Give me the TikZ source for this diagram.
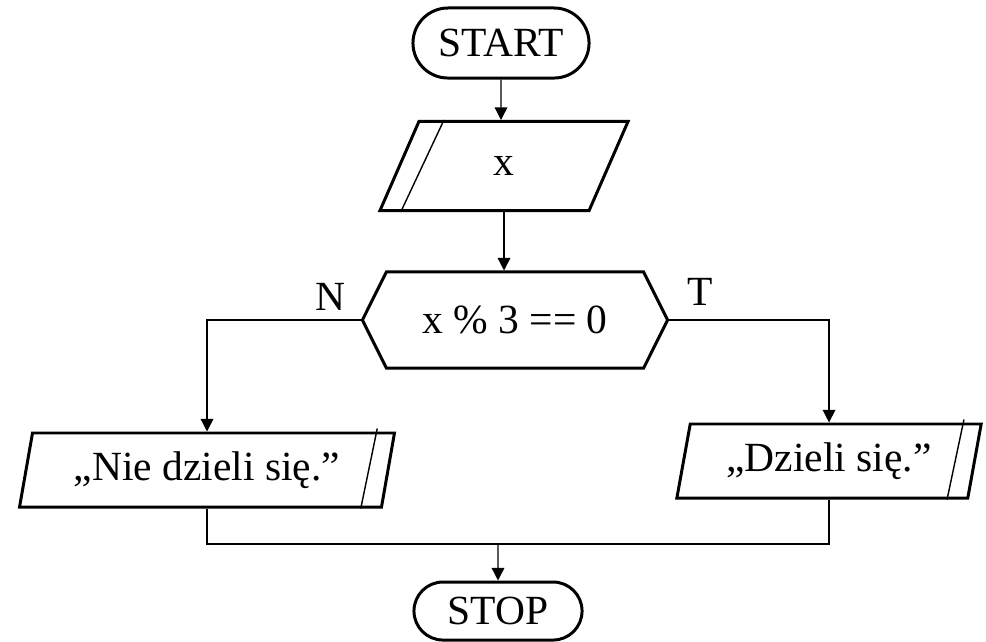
\documentclass[tikz,border=0pt]{standalone}
\usepackage{fontspec}
\setmainfont{Liberation Serif}
\usetikzlibrary{shapes.geometric, shapes.misc, shapes.symbols, arrows.meta, calc}

\begin{document}
\begin{tikzpicture}[x=0.01cm, y=-0.01cm, >={Triangle[length=3.6pt, width=3.6pt]}, font=\fontsize{11.8}{14}\selectfont,
    term/.style={rounded rectangle, draw, line width=0.85pt, inner sep=0pt},
    io/.style={trapezium, draw, line width=0.85pt, trapezium stretches=true, inner sep=0pt},
    cond/.style={signal, signal to=west and east, signal pointer angle=127, draw, line width=0.85pt, inner sep=0pt},
    flow/.style={->, line width=0.4pt}]
    \useasboundingbox (0,0) rectangle (986,641);

    \node[term, minimum width=1.76cm, minimum height=0.70cm] (start) at (501,43) {START};
    \node[io, trapezium left angle=76, trapezium right angle=104, minimum width=2.48cm, minimum height=0.89cm] (in) at (504,166) {x};
    \node[cond, minimum width=3.05cm, minimum height=0.96cm] (dec) at (515,320) {x \% 3 == 0};
    \node (lblN) at (330,297) {N};
    \node (lblT) at (700,292) {T};
    \node[io, trapezium left angle=75, trapezium right angle=105, minimum width=3.78cm, minimum height=0.74cm] (outn) at (207,470) {„Nie dzieli się.”};
    \node[io, trapezium left angle=75, trapezium right angle=105, minimum width=3.05cm, minimum height=0.74cm] (outt) at (829,461) {„Dzieli się.”};
    \node[term, minimum width=1.68cm, minimum height=0.58cm] (stop) at (498,611) {STOP};
    \coordinate (join) at (498,544);

    % extra lines inside the parallelograms
    \draw[line width=0.4pt] ($(in.top left corner)+(26,0)$) -- ($(in.bottom left corner)+(23,0)$);
    \draw[line width=0.4pt] ($(outn.top right corner)+(-19,-3)$) -- ($(outn.bottom right corner)+(-22,0)$);
    \draw[line width=0.4pt] ($(outt.top right corner)+(-19,-3)$) -- ($(outt.bottom right corner)+(-22,0)$);

    \draw[flow] (start) -- (start |- in.north);
    \draw[flow] (in.south) -- (in.south |- dec.north);
    \draw[flow] (dec.west) -| (outn.north);
    \draw[flow] (dec.east) -| (outt.north);
    \draw[line width=0.4pt] (outn.south) |- (join) -| (outt.south);
    \draw[flow] (join) -- (stop);
\end{tikzpicture}
\end{document}
